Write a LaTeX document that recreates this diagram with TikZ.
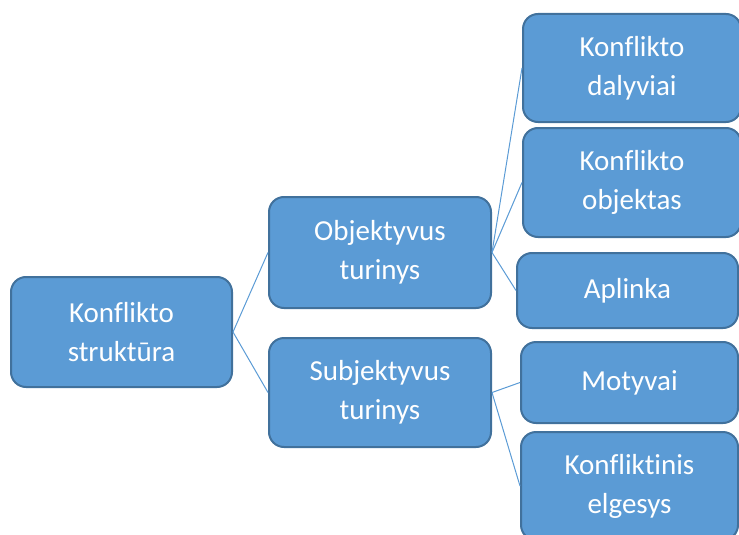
\documentclass[tikz,border=0pt]{standalone}
\usepackage{fontspec}
\setmainfont[Ligatures=NoCommon]{Carlito}
\definecolor{boxfill}{HTML}{5B9BD5}
\definecolor{boxedge}{HTML}{41719C}
\definecolor{linkblue}{HTML}{5B9BD5}
\begin{document}
\begin{tikzpicture}[x=1pt,y=-1pt,
  item/.style={draw=boxedge, line width=2pt, fill=boxfill, rounded corners=15pt,
    text=white, align=center, inner sep=0pt,
    font=\fontsize{29}{39}\selectfont},
  link/.style={draw=linkblue, line width=1pt}]
\useasboundingbox (0,0) rectangle (739,535);
% hierarchy boxes
\node[item, minimum width=221pt, minimum height=110pt] (root) at (121.5,332) {Konflikto\\struktūra};
\node[item, minimum width=222pt, minimum height=111pt] (obj) at (380,252.5) {Objektyvus\\turinys};
\node[item, minimum width=222pt, minimum height=109pt] (subj) at (380,392.5) {Subjektyvus\\turinys};
\node[item, minimum width=218pt, minimum height=108pt] (dal) at (632,68) {Konflikto\\dalyviai};
\node[item, minimum width=218pt, minimum height=109pt] (objk) at (632,182.5) {Konflikto\\objektas};
\node[item, minimum width=221pt, minimum height=75pt] (apl) at (627.5,290.5) {Aplinka};
\node[item, minimum width=217pt, minimum height=81pt] (mot) at (629.5,382.5) {Motyvai};
\node[item, minimum width=217pt, minimum height=108pt] (elg) at (629.5,486) {Konfliktinis\\elgesys};
% connectors
\draw[link] (root.east) -- (obj.west);
\draw[link] (root.east) -- (subj.west);
\draw[link] (obj.east) -- (dal.west);
\draw[link] (obj.east) -- (objk.west);
\draw[link] (obj.east) -- (apl.west);
\draw[link] (subj.east) -- (mot.west);
\draw[link] (subj.east) -- (elg.west);
\end{tikzpicture}
\end{document}
